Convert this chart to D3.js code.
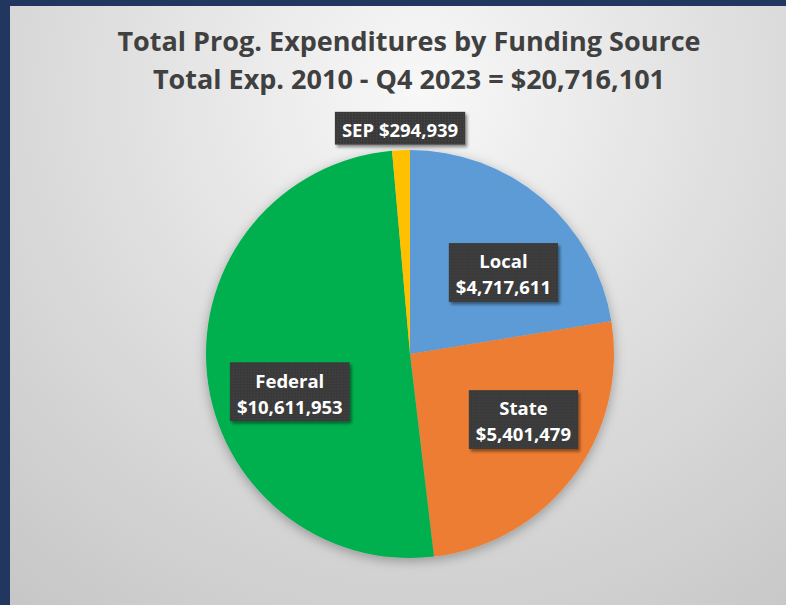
<!DOCTYPE html>
<html>
<head>
<meta charset="utf-8">
<script src="https://cdn.jsdelivr.net/npm/d3@7/dist/d3.min.js"></script>
<style>
  html, body { margin: 0; padding: 0; background: #22375f; }
  svg { display: block; }
</style>
</head>
<body>
<svg id="chart" width="786" height="605"></svg>
<script>
// Funding sources, in clockwise order from 12 o'clock
const sources = ["Local", "State", "Federal", "SEP"];
const amounts = [4717611, 5401479, 10611953, 294939];
const amountText = ["$4,717,611", "$5,401,479", "$10,611,953", "$294,939"];
const sliceColors = ["#5b9bd5", "#ed7d31", "#00b050", "#ffc000"];
const titleLines = [
  "Total Prog. Expenditures by Funding Source",
  "Total Exp. 2010 - Q4 2023 = $20,716,101"
];

const W = 786, H = 605;
const svg = d3.select("#chart");
const defs = svg.append("defs");

// Panel background: light centre fading to grey at the edges
const bg = defs.append("radialGradient").attr("id", "panelBg")
  .attr("gradientUnits", "userSpaceOnUse")
  .attr("cx", 420).attr("cy", 90).attr("r", 720);
bg.append("stop").attr("offset", "0%").attr("stop-color", "#f8f8f8");
bg.append("stop").attr("offset", "45%").attr("stop-color", "#dedede");
bg.append("stop").attr("offset", "100%").attr("stop-color", "#c2c2c2");

// Soft shadow beneath the pie
const pieShadow = defs.append("filter").attr("id", "pieShadow")
  .attr("x", "-20%").attr("y", "-20%").attr("width", "140%").attr("height", "140%");
pieShadow.append("feDropShadow").attr("dx", 0).attr("dy", 3)
  .attr("stdDeviation", 6).attr("flood-color", "#000").attr("flood-opacity", 0.3);

// Shadow under the label boxes
const boxShadow = defs.append("filter").attr("id", "boxShadow")
  .attr("x", "-20%").attr("y", "-30%").attr("width", "150%").attr("height", "170%");
boxShadow.append("feDropShadow").attr("dx", 2).attr("dy", 2.5)
  .attr("stdDeviation", 1.8).attr("flood-color", "#000").attr("flood-opacity", 0.45);

// Fine dotted texture for the label boxes
const tex = defs.append("pattern").attr("id", "boxTex")
  .attr("patternUnits", "userSpaceOnUse").attr("width", 3).attr("height", 3);
tex.append("rect").attr("width", 3).attr("height", 3).attr("fill", "#3b3b3b");
tex.append("rect").attr("width", 1).attr("height", 1).attr("fill", "#474747");
tex.append("rect").attr("x", 1.5).attr("y", 1.5).attr("width", 1).attr("height", 1).attr("fill", "#333");

// Navy frame and grey panel
svg.append("rect").attr("width", W).attr("height", H).attr("fill", "#22375f");
svg.append("rect").attr("x", 10).attr("y", 6).attr("width", W - 10).attr("height", H - 6)
  .attr("fill", "url(#panelBg)");

// Title
const font = "'Open Sans', Lato, sans-serif";
svg.append("g").selectAll("text").data(titleLines).join("text")
  .attr("x", 409).attr("y", (d, i) => 50.5 + i * 38)
  .attr("text-anchor", "middle")
  .attr("font-family", font).attr("font-weight", 700).attr("font-size", 27)
  .attr("fill", "#404040")
  .text(d => d);

// Pie
const cx = 410, cy = 354, R = 204;
const data = sources.map((s, i) => ({ source: s, value: amounts[i], text: amountText[i], color: sliceColors[i] }));
const pie = d3.pie().value(d => d.value).sort(null).startAngle(0).endAngle(2 * Math.PI);
const arcs = pie(data);
const arc = d3.arc().innerRadius(0).outerRadius(R);

const g = svg.append("g").attr("transform", `translate(${cx},${cy})`);
g.append("g").attr("filter", "url(#pieShadow)")
  .selectAll("path").data(arcs).join("path")
  .attr("d", arc)
  .attr("fill", d => d.data.color);

// Label placement: radius along each slice's mid-angle, with a small angular nudge
const labelRadius = { Local: 124, State: 131, Federal: 126, SEP: 226 };
const labelAngleShift = { Local: 8.5, State: -7, Federal: -11.5, SEP: 0 }; // degrees
const twoLine = { Local: true, State: true, Federal: true, SEP: false };

const labelSize = 18.5, capH = 13.3, lineGap = 26;
const labels = g.append("g");
arcs.forEach(a => {
  const name = a.data.source;
  const mid = (a.startAngle + a.endAngle) / 2 + labelAngleShift[name] * Math.PI / 180;
  const r = labelRadius[name];
  const x = r * Math.sin(mid), y = -r * Math.cos(mid);
  const lg = labels.append("g").attr("transform", `translate(${x},${y})`);
  const box = lg.append("rect").attr("fill", "url(#boxTex)").attr("filter", "url(#boxShadow)");
  const lines = twoLine[name] ? [name, a.data.text] : [name + " " + a.data.text];
  const bh = capH + lineGap * (lines.length - 1) + 19.5;
  const top = -bh / 2;
  const t = lg.selectAll("text").data(lines).join("text")
    .attr("text-anchor", "middle")
    .attr("x", 0)
    .attr("y", (d, i) => top + 12 + capH + i * lineGap)
    .attr("font-family", font).attr("font-weight", 700).attr("font-size", labelSize)
    .attr("fill", "#ffffff")
    .text(d => d);
  let wMax = 0;
  t.each(function () { wMax = Math.max(wMax, this.getComputedTextLength()); });
  const bw = wMax + 14;
  box.attr("x", -bw / 2).attr("y", top).attr("width", bw).attr("height", bh);
});
</script>
</body>
</html>
